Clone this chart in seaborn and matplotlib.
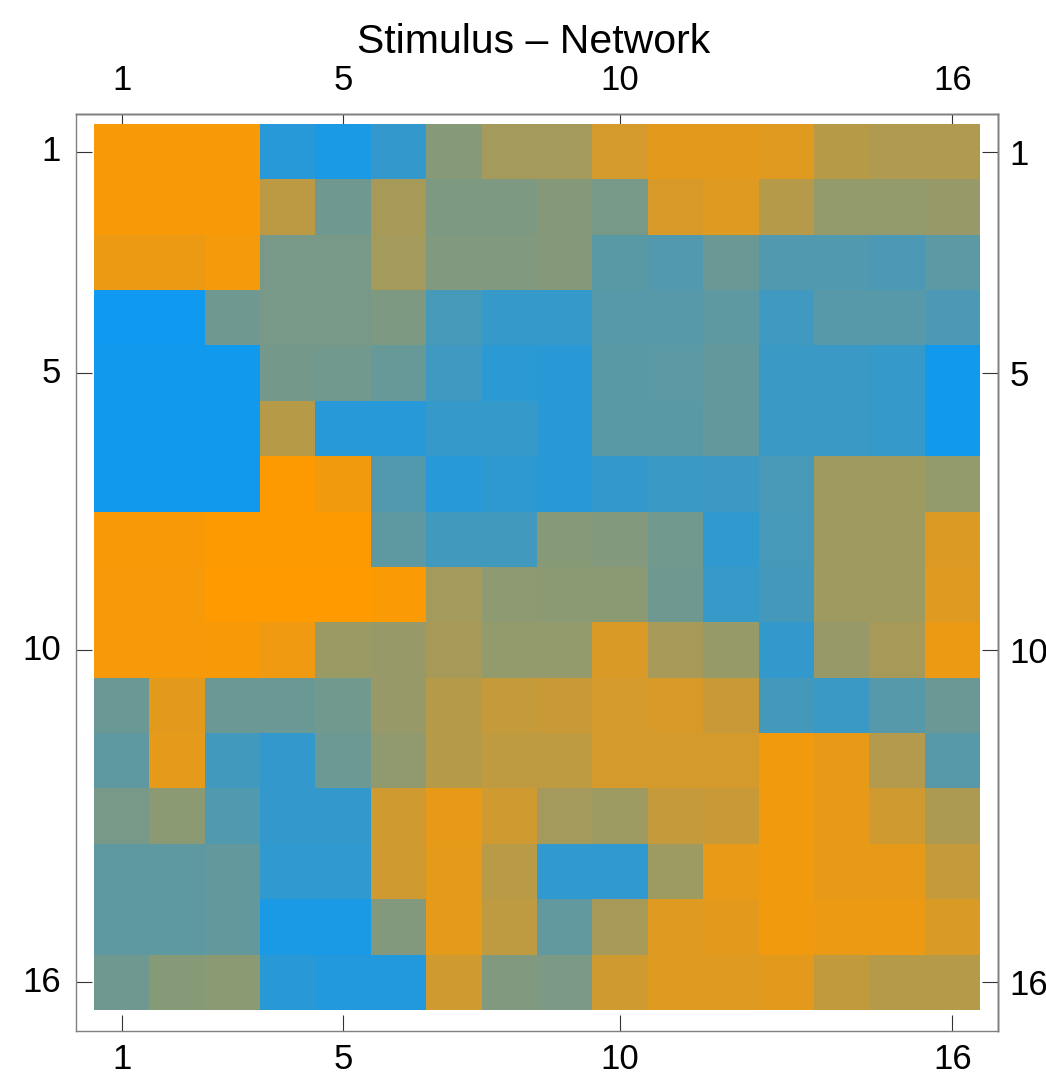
import numpy as np
import pandas as pd
import seaborn as sns
import matplotlib.pyplot as plt
from matplotlib.colors import LinearSegmentedColormap

# cell values, 0 = blue, 1 = orange (rows 1..16, columns 1..16)
r1 = [0.97, 0.97, 0.97, 0.10, 0.05, 0.15, 0.50, 0.62, 0.62, 0.82, 0.88, 0.88, 0.87, 0.70, 0.67, 0.67]
r2 = [0.97, 0.97, 0.97, 0.72, 0.40, 0.63, 0.46, 0.46, 0.49, 0.43, 0.83, 0.86, 0.69, 0.55, 0.55, 0.57]
r3 = [0.92, 0.92, 0.95, 0.44, 0.44, 0.62, 0.47, 0.47, 0.49, 0.31, 0.28, 0.38, 0.27, 0.27, 0.25, 0.32]
r4 = [0.00, 0.00, 0.40, 0.44, 0.44, 0.46, 0.23, 0.16, 0.16, 0.30, 0.30, 0.33, 0.20, 0.30, 0.30, 0.25]
r5 = [0.01, 0.01, 0.01, 0.42, 0.41, 0.37, 0.20, 0.12, 0.11, 0.31, 0.32, 0.35, 0.18, 0.18, 0.16, 0.01]
r6 = [0.01, 0.01, 0.01, 0.70, 0.10, 0.10, 0.16, 0.16, 0.11, 0.31, 0.31, 0.35, 0.18, 0.18, 0.16, 0.01]
r7 = [0.01, 0.01, 0.01, 0.99, 0.94, 0.28, 0.10, 0.13, 0.11, 0.15, 0.18, 0.19, 0.24, 0.60, 0.60, 0.55]
r8 = [0.97, 0.97, 0.99, 0.99, 0.99, 0.33, 0.21, 0.21, 0.50, 0.48, 0.41, 0.14, 0.23, 0.60, 0.60, 0.85]
r9 = [0.96, 0.96, 1.00, 1.00, 1.00, 0.98, 0.62, 0.53, 0.52, 0.52, 0.40, 0.17, 0.22, 0.60, 0.60, 0.86]
r10 = [0.96, 0.96, 0.97, 0.93, 0.58, 0.57, 0.63, 0.55, 0.55, 0.84, 0.63, 0.56, 0.15, 0.57, 0.63, 0.92]
r11 = [0.38, 0.88, 0.38, 0.38, 0.41, 0.57, 0.69, 0.75, 0.77, 0.82, 0.83, 0.77, 0.22, 0.18, 0.29, 0.38]
r12 = [0.33, 0.89, 0.21, 0.15, 0.39, 0.54, 0.69, 0.73, 0.73, 0.82, 0.82, 0.82, 0.94, 0.90, 0.68, 0.30]
r13 = [0.44, 0.52, 0.27, 0.15, 0.15, 0.80, 0.90, 0.80, 0.62, 0.59, 0.75, 0.77, 0.94, 0.90, 0.80, 0.66]
r14 = [0.33, 0.33, 0.35, 0.14, 0.14, 0.80, 0.89, 0.71, 0.14, 0.14, 0.59, 0.91, 0.94, 0.90, 0.90, 0.75]
r15 = [0.33, 0.33, 0.35, 0.05, 0.05, 0.48, 0.89, 0.73, 0.34, 0.63, 0.86, 0.88, 0.94, 0.92, 0.92, 0.84]
r16 = [0.40, 0.50, 0.52, 0.11, 0.08, 0.08, 0.80, 0.47, 0.45, 0.80, 0.86, 0.86, 0.88, 0.74, 0.69, 0.69]

tick_idx = [1, 5, 10, 16]
tick_labels = ["1", "5", "10", "16"]
title = "Stimulus \u2013 Network"

rows = [r1, r2, r3, r4, r5, r6, r7, r8, r9, r10, r11, r12, r13, r14, r15, r16]
n = len(rows)
df = pd.DataFrame(rows, index=range(1, n + 1), columns=range(1, n + 1))

plt.rcParams['font.family'] = ['Liberation Sans', 'DejaVu Sans']

cmap = LinearSegmentedColormap.from_list("blueorange", ["#0F99F0", "#FF9A00"])

fig = plt.figure(figsize=(10.46, 10.76), dpi=100)
ax = fig.add_axes([76 / 1046, 1 - 1031 / 1076, 922 / 1046, 917 / 1076])
sns.heatmap(df, cmap=cmap, vmin=0, vmax=1, cbar=False, ax=ax, linewidths=0)

ax.set_xlim(-0.325, n + 0.325)
ax.set_ylim(n + 0.38, -0.18)

pos = [i - 0.5 for i in tick_idx]
ax.set_xticks(pos, tick_labels)
ax.set_yticks(pos, tick_labels, rotation=0)
ax.set_xlabel("")
ax.set_ylabel("")

tick_kw = dict(direction='in', labelsize=25, color='#333333', width=0.8)
ax.tick_params(axis='x', bottom=True, top=False, length=11.5, pad=8.5, **tick_kw)
ax.tick_params(axis='y', left=True, right=False, length=11.5, pad=11, **tick_kw)

top = ax.secondary_xaxis('top')
top.set_xticks(pos, tick_labels)
top.tick_params(length=7.2, pad=12.5, **tick_kw)
right = ax.secondary_yaxis('right')
right.set_yticks(pos, tick_labels)
right.tick_params(length=11.5, pad=8, **tick_kw)

for a in (ax, top, right):
    for s in a.spines.values():
        s.set_visible(True)
        s.set_color('#808080')
        s.set_linewidth(1.0)

fig.text(534 / 1046, 1 - 53 / 1076, title, ha='center', va='baseline', fontsize=29.5)

fig.savefig("out.png", dpi=100)
